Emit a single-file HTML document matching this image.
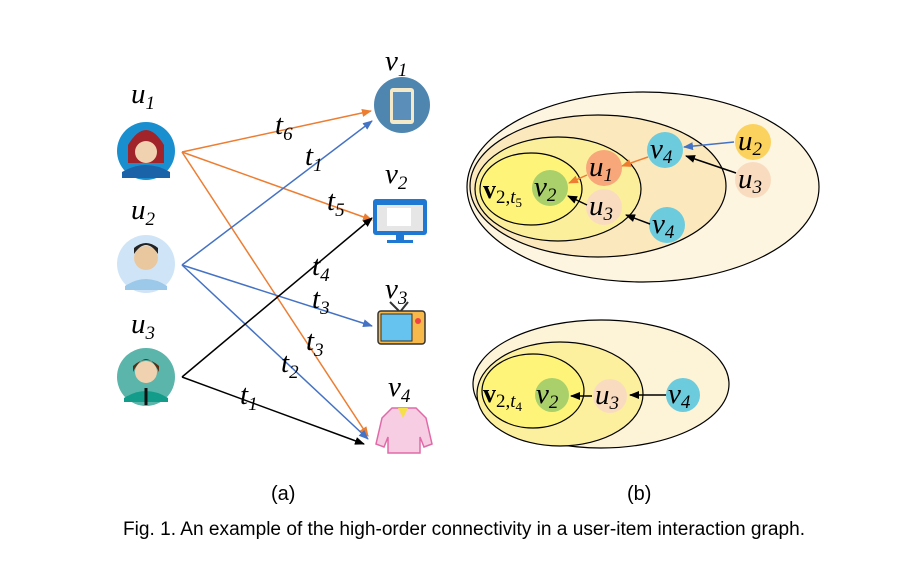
<!DOCTYPE html>
<html><head><meta charset="utf-8"><style>
body{margin:0;background:#fff}
svg{display:block}
.m{font-family:"Liberation Serif",serif;font-style:italic;font-size:29px;fill:#000}
.s{font-size:19px}
.b{font-family:"Liberation Serif",serif;font-weight:bold;font-size:26px}
.c{font-family:"Liberation Sans",sans-serif;font-size:19px}
</style></head><body>
<svg width="922" height="562" viewBox="0 0 922 562" xmlns="http://www.w3.org/2000/svg">
<defs>
<marker id="ao" markerWidth="10" markerHeight="8" refX="9" refY="4" orient="auto" markerUnits="userSpaceOnUse"><path d="M0,0L10,4L0,8z" fill="#ed7d31"/></marker>
<marker id="ab" markerWidth="10" markerHeight="8" refX="9" refY="4" orient="auto" markerUnits="userSpaceOnUse"><path d="M0,0L10,4L0,8z" fill="#4472c4"/></marker>
<marker id="ak" markerWidth="10" markerHeight="8" refX="9" refY="4" orient="auto" markerUnits="userSpaceOnUse"><path d="M0,0L10,4L0,8z" fill="#000"/></marker>
</defs>
<!-- users -->
<circle cx="146" cy="151" r="29" fill="#1a8fd0"/>
<path d="M128,145 q18,-30 36,0 v18 h-36z" fill="#a0242a"/>
<circle cx="146" cy="152" r="11" fill="#f1d2b0"/>
<path d="M122,172 q24,-14 48,0 v6 h-48z" fill="#1b63a8"/>
<circle cx="146" cy="264" r="29" fill="#cfe5f7"/>
<circle cx="146" cy="258" r="12" fill="#e9c8a0"/>
<path d="M134,254 q12,-18 24,0 v-6 q-12,-10 -24,0z" fill="#222"/>
<path d="M125,286 q21,-14 42,0 v4 h-42z" fill="#9cc8ea"/>
<circle cx="146" cy="377" r="29" fill="#5bb5aa"/>
<path d="M133,372 q13,-26 26,0 v-6 q-13,-12 -26,0z" fill="#5a2e14"/>
<circle cx="146" cy="372" r="11" fill="#f1d2b0"/>
<path d="M124,398 q22,-14 44,0 v4 h-44z" fill="#139c8a"/>
<line x1="146" y1="388" x2="146" y2="405" stroke="#111" stroke-width="3"/>
<!-- items -->
<circle cx="402" cy="105" r="28" fill="#4f86b0"/>
<rect x="390" y="88" width="24" height="36" rx="3" fill="#f4e9c8"/>
<rect x="393" y="92" width="18" height="28" fill="#5b8fba"/>
<rect x="373" y="199" width="54" height="36" rx="3" fill="#1f78d1"/>
<rect x="377" y="205" width="46" height="26" fill="#e6e6e6"/>
<rect x="387" y="208" width="24" height="18" fill="#fff"/>
<rect x="396" y="235" width="8" height="5" fill="#1f78d1"/><rect x="387" y="240" width="26" height="3" fill="#1f78d1"/>
<path d="M390,302 l10,10 l8,-10" stroke="#333" stroke-width="2" fill="none"/>
<rect x="378" y="311" width="47" height="33" rx="3" fill="#f6b94a" stroke="#333" stroke-width="1.5"/>
<rect x="381" y="314" width="31" height="27" fill="#66c3ef" stroke="#333"/>
<circle cx="418" cy="321" r="3" fill="#e44"/>
<path d="M392,408 l-10,10 l-6,26 l8,3 l4,-10 v16 h32 v-16 l4,10 l8,-3 l-6,-26 l-10,-10z" fill="#f7cde3" stroke="#e06aa8" stroke-width="1.5"/>
<path d="M398,408 l5,10 l5,-10z" fill="#f6e04a"/>
<!-- edges -->
<g stroke-width="1.5" fill="none">
<line x1="182" y1="152" x2="371" y2="111" stroke="#ed7d31" marker-end="url(#ao)"/>
<line x1="182" y1="152" x2="372" y2="220" stroke="#ed7d31" marker-end="url(#ao)"/>
<line x1="182" y1="152" x2="368" y2="436" stroke="#ed7d31" marker-end="url(#ao)"/>
<line x1="182" y1="265" x2="372" y2="121" stroke="#4472c4" marker-end="url(#ab)"/>
<line x1="182" y1="265" x2="372" y2="326" stroke="#4472c4" marker-end="url(#ab)"/>
<line x1="182" y1="265" x2="368" y2="439" stroke="#4472c4" marker-end="url(#ab)"/>
<line x1="182" y1="377" x2="372" y2="218" stroke="#000" marker-end="url(#ak)"/>
<line x1="182" y1="377" x2="364" y2="444" stroke="#000" marker-end="url(#ak)"/>
</g>
<!-- labels left -->
<text class="m" x="131" y="103">u<tspan class="s" dy="6">1</tspan></text>
<text class="m" x="131" y="219">u<tspan class="s" dy="6">2</tspan></text>
<text class="m" x="131" y="333">u<tspan class="s" dy="6">3</tspan></text>
<text class="m" x="385" y="70">v<tspan class="s" dy="6">1</tspan></text>
<text class="m" x="385" y="183">v<tspan class="s" dy="6">2</tspan></text>
<text class="m" x="385" y="298">v<tspan class="s" dy="6">3</tspan></text>
<text class="m" x="388" y="396">v<tspan class="s" dy="6">4</tspan></text>
<text class="m" x="275" y="134">t<tspan class="s" dy="6">6</tspan></text>
<text class="m" x="305" y="165">t<tspan class="s" dy="6">1</tspan></text>
<text class="m" x="327" y="210">t<tspan class="s" dy="6">5</tspan></text>
<text class="m" x="312" y="275">t<tspan class="s" dy="6">4</tspan></text>
<text class="m" x="312" y="308">t<tspan class="s" dy="6">3</tspan></text>
<text class="m" x="306" y="350">t<tspan class="s" dy="6">3</tspan></text>
<text class="m" x="281" y="372">t<tspan class="s" dy="6">2</tspan></text>
<text class="m" x="240" y="404">t<tspan class="s" dy="6">1</tspan></text>
<!-- right top -->
<g stroke="#000" stroke-width="1.2">
<ellipse cx="643" cy="187" rx="176" ry="95" fill="#fdf5df"/>
<ellipse cx="598" cy="186" rx="128" ry="71" fill="#fbe8bd"/>
<ellipse cx="558" cy="189" rx="83" ry="52" fill="#fcef9c"/>
<ellipse cx="531" cy="189" rx="51" ry="36" fill="#fff47a"/>
</g>
<circle cx="550" cy="188" r="18" fill="#a9d06b"/>
<circle cx="604" cy="168" r="18" fill="#f7a77a"/>
<circle cx="604" cy="207" r="18" fill="#f9dcc0"/>
<circle cx="665" cy="150" r="18" fill="#6ccbdd"/>
<circle cx="753" cy="142" r="18" fill="#fcd25e"/>
<circle cx="753" cy="180" r="18" fill="#f9dcc0"/>
<circle cx="667" cy="225" r="18" fill="#6ccbdd"/>
<g stroke-width="1.5">
<line x1="734" y1="142" x2="684" y2="147" stroke="#4472c4" marker-end="url(#ab)"/>
<line x1="736" y1="173" x2="686" y2="156" stroke="#000" marker-end="url(#ak)"/>
<line x1="648" y1="157" x2="622" y2="166" stroke="#ed7d31" marker-end="url(#ao)"/>
<line x1="587" y1="175" x2="569" y2="183" stroke="#ed7d31" marker-end="url(#ao)"/>
<line x1="587" y1="205" x2="568" y2="196" stroke="#000" marker-end="url(#ak)"/>
<line x1="650" y1="224" x2="626" y2="215" stroke="#000" marker-end="url(#ak)"/>
</g>
<text class="b" x="483" y="198">v<tspan style="font-size:19px;font-weight:normal" dy="5">2,</tspan><tspan class="m" style="font-size:19px;font-weight:normal">t</tspan><tspan style="font-size:13px;font-weight:normal" dy="4">5</tspan></text>
<text class="m" x="534" y="196">v<tspan class="s" dy="5">2</tspan></text>
<text class="m" x="589" y="176">u<tspan class="s" dy="5">1</tspan></text>
<text class="m" x="589" y="215">u<tspan class="s" dy="5">3</tspan></text>
<text class="m" x="650" y="158">v<tspan class="s" dy="5">4</tspan></text>
<text class="m" x="738" y="150">u<tspan class="s" dy="5">2</tspan></text>
<text class="m" x="738" y="188">u<tspan class="s" dy="5">3</tspan></text>
<text class="m" x="652" y="233">v<tspan class="s" dy="5">4</tspan></text>
<!-- right bottom -->
<g stroke="#000" stroke-width="1.2">
<ellipse cx="601" cy="384" rx="128" ry="64" fill="#fdf3d6"/>
<ellipse cx="560" cy="394" rx="83" ry="52" fill="#fcf09e"/>
<ellipse cx="533" cy="391" rx="51" ry="37" fill="#fff47a"/>
</g>
<circle cx="552" cy="395" r="17" fill="#a9d06b"/>
<circle cx="610" cy="396" r="17" fill="#f9dcc0"/>
<circle cx="683" cy="395" r="17" fill="#6ccbdd"/>
<g stroke-width="1.5">
<line x1="666" y1="395" x2="630" y2="395" stroke="#000" marker-end="url(#ak)"/>
<line x1="592" y1="396" x2="571" y2="396" stroke="#000" marker-end="url(#ak)"/>
</g>
<text class="b" x="483" y="402">v<tspan style="font-size:19px;font-weight:normal" dy="5">2,</tspan><tspan class="m" style="font-size:19px;font-weight:normal">t</tspan><tspan style="font-size:13px;font-weight:normal" dy="4">4</tspan></text>
<text class="m" x="536" y="403">v<tspan class="s" dy="5">2</tspan></text>
<text class="m" x="595" y="404">u<tspan class="s" dy="5">3</tspan></text>
<text class="m" x="668" y="403">v<tspan class="s" dy="5">4</tspan></text>
<!-- captions -->
<text class="c" x="271" y="500" style="font-size:20px">(a)</text>
<text class="c" x="627" y="500" style="font-size:20px">(b)</text>
<text class="c" x="123" y="535" textLength="682" lengthAdjust="spacingAndGlyphs">Fig. 1. An example of the high-order connectivity in a user-item interaction graph.</text>
</svg>
</body></html>
